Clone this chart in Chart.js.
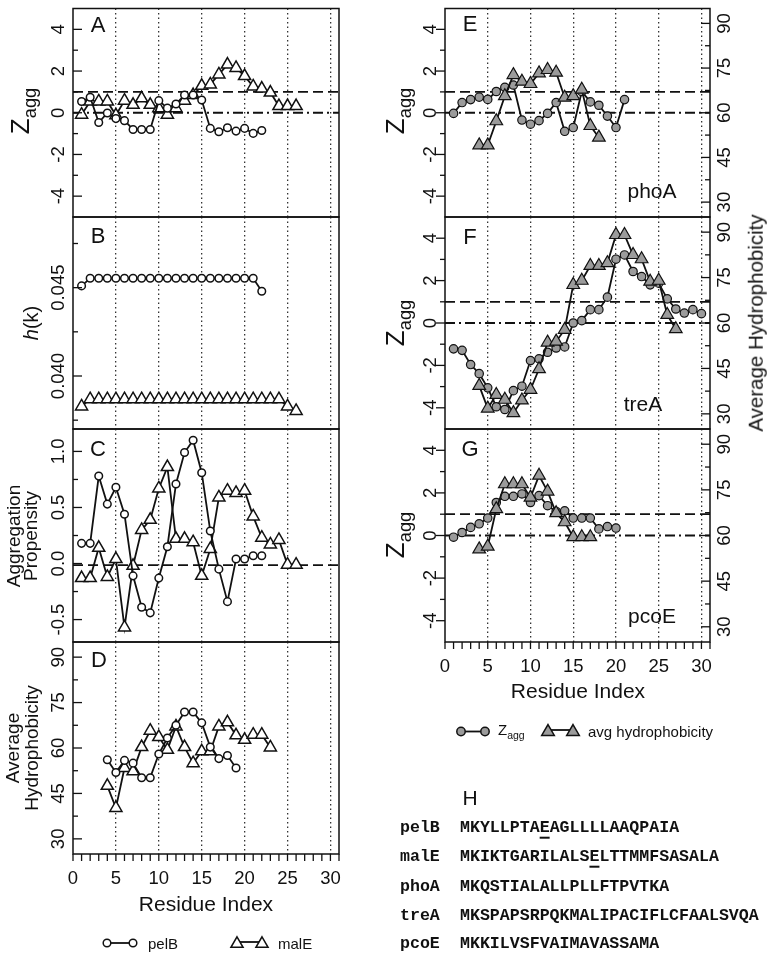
<!DOCTYPE html>
<html>
<head>
<meta charset="utf-8">
<title>Signal peptide aggregation profiles</title>
<script src="https://cdn.jsdelivr.net/npm/chart.js@4.4.1/dist/chart.umd.min.js"></script>
<style>
  body { margin: 0; background: #fff; }
  #page { position: relative; width: 767px; height: 956px; overflow: hidden;
          font-family: "Liberation Sans", Arial, Helvetica, sans-serif; color: #111; }
  #page canvas, #page svg { position: absolute; left: 0; top: 0; }
  .t { position: absolute; white-space: nowrap; line-height: 1; transform: translate(-50%, -50%); }
  .v { transform: translate(-50%, -50%) rotate(-90deg); text-align: center; }
  .t sub { font-size: 0.7em; vertical-align: -0.4em; line-height: 0; }
  .seq { position: absolute; font-family: "Liberation Mono", "Courier New", monospace; font-weight: bold;
         font-size: 16.6px; line-height: 1; white-space: pre; transform: translateY(-50%); }
  .seq u { text-decoration-thickness: 2px; text-underline-offset: 5px; }
</style>
</head>
<body>
<div id="page"></div>
<script>
// residue index axis (same for every panel)
const residueMax = 31;
const residueLabels = [0, 5, 10, 15, 20, 25, 30];

// A: Z_agg, pelB and malE (from residue 1)
const pelB_zagg = [0.54, 0.74, -0.47, -0.01, -0.28, -0.38, -0.80, -0.80, -0.80, 0.58, 0.22, 0.42, 0.85, 0.85, 0.61, -0.75, -0.91, -0.72, -0.88, -0.75, -0.99, -0.85];
const malE_zagg = [-0.09, 0.54, 0.54, 0.54, -0.12, 0.58, 0.38, 0.69, 0.38, 0.22, -0.09, 0.22, 0.58, 0.85, 1.29, 1.36, 1.84, 2.31, 2.15, 1.76, 1.26, 1.16, 0.97, 0.32, 0.32, 0.32];

// B: h(k)
const pelB_hk = [0.0451, 0.04553, 0.04553, 0.04553, 0.04553, 0.04553, 0.04553, 0.04553, 0.04553, 0.04553, 0.04553, 0.04553, 0.04553, 0.04553, 0.04553, 0.04553, 0.04553, 0.04553, 0.04553, 0.04553, 0.04553, 0.0448];
const malE_hk = [0.03828, 0.03869, 0.03869, 0.03869, 0.03869, 0.03869, 0.03869, 0.03869, 0.03869, 0.03869, 0.03869, 0.03869, 0.03869, 0.03869, 0.03869, 0.03869, 0.03869, 0.03869, 0.03869, 0.03869, 0.03869, 0.03869, 0.03869, 0.03869, 0.03828, 0.03802];

// C: aggregation propensity
const pelB_agg = [0.18, 0.18, 0.78, 0.53, 0.68, 0.44, -0.11, -0.39, -0.44, -0.13, 0.15, 0.71, 0.99, 1.10, 0.81, 0.29, -0.05, -0.34, 0.04, 0.04, 0.07, 0.07];
const malE_agg = [-0.13, -0.13, 0.14, -0.12, 0.04, -0.57, -0.02, 0.30, 0.39, 0.67, 0.86, 0.22, 0.22, 0.19, -0.11, 0.13, 0.59, 0.65, 0.63, 0.65, 0.42, 0.23, 0.17, 0.21, -0.01, -0.01];

// D-G: average hydrophobicity starts at residue 4 (7-residue window)
const hydStart = 4;
const pelB_hyd = [56.1, 51.9, 55.9, 55.0, 50.2, 50.2, 58.0, 63.3, 67.5, 71.9, 71.9, 68.3, 60.3, 56.5, 57.5, 53.4];
const malE_hyd = [47.5, 40.2, 53.4, 52.3, 60.3, 65.7, 63.6, 59.4, 67.1, 60.3, 55.0, 58.9, 58.9, 67.1, 68.5, 64.2, 62.7, 64.4, 64.4, 60.2];

// E: phoA
const phoA_zagg = [-0.03, 0.49, 0.63, 0.75, 0.64, 1.02, 1.22, 1.33, -0.35, -0.55, -0.38, -0.03, 0.49, -0.89, -0.71, 1.02, 0.52, 0.36, -0.16, -0.71, 0.63];
const phoA_hyd = [49.1, 49.1, 57.2, 65.6, 72.7, 70.5, 69.7, 73.3, 74.4, 73.5, 65.1, 65.6, 67.8, 55.6, 51.7];

// F: treA
const treA_zagg = [-1.22, -1.29, -1.96, -2.39, -3.06, -3.95, -4.08, -3.19, -2.98, -1.77, -1.69, -1.38, -1.18, -1.13, 0.00, 0.11, 0.63, 0.63, 1.22, 3.01, 3.21, 2.43, 2.19, 1.80, 1.88, 1.14, 0.66, 0.47, 0.63, 0.44];
const treA_hyd = [39.3, 31.8, 36.3, 34.7, 30.3, 34.5, 38.0, 44.8, 53.6, 53.9, 57.8, 72.6, 74.0, 78.9, 78.9, 79.8, 89.1, 89.1, 82.5, 81.1, 73.7, 74.0, 62.7, 58.0];

// G: pcoE
const pcoE_zagg = [-0.08, 0.14, 0.38, 0.55, 0.82, 1.55, 1.84, 1.84, 1.95, 1.55, 1.87, 1.40, 1.13, 1.16, 0.82, 0.82, 0.82, 0.31, 0.42, 0.35];
const pcoE_hyd = [55.5, 56.4, 68.7, 76.9, 76.9, 76.9, 72.5, 79.7, 74.5, 67.4, 64.4, 59.5, 59.5, 59.5];

// axis ranges and ticks
const zaggRange = [-5, 5], zaggTicks = [-4, -2, 0, 2, 4], zaggMinor = [-3, -1, 1, 3];
const hkRange = [0.037, 0.049], hkTicks = [0.040, 0.045], hkMinor = [0.0375, 0.0425, 0.0475];
const aggRange = [-0.7, 1.2], aggTicks = [-0.5, 0.0, 0.5, 1.0], aggMinor = [-0.25, 0.25, 0.75];
const hydRange = [25, 95], hydTicks = [30, 45, 60, 75, 90], hydMinor = [37.5, 52.5, 67.5, 82.5];

// reference lines
const zaggCutoff = 1, zaggZero = 0, aggZero = -0.015;

// sequences (panel H), underlined residue index (0-based) or -1
const seqNames = ['pelB', 'malE', 'phoA', 'treA', 'pcoE'];
const seqs = ['MKYLLPTAEAGLLLLAAQPAIA', 'MKIKTGARILALSELTTMMFSASALA', 'MKQSTIALALLPLLFTPVTKA', 'MKSPAPSRPQKMALIPACIFLCFAALSVQA', 'MKKILVSFVAIMAVASSAMA'];
const seqMark = [8, 13, -1, -1, -1];

const W = 767, H = 956;
const INK = '#111';
const GREY = '#9b9b9b';
const TICK_FONT = '18.5px "Liberation Sans", Arial, sans-serif';
const page = document.getElementById('page');

const DASH = [10, 5];
const DASHDOT = [10, 4, 2, 4];

function series(values, first) {
  return values.map((v, i) => ({ x: first + i, y: v }));
}

function lineSet(data, marker, extra) {
  const base = {
    data, borderColor: INK, borderWidth: 1.8, tension: 0, fill: false,
    pointBorderColor: INK
  };
  if (marker === 'openCircle') Object.assign(base, { pointStyle: 'circle', pointRadius: 3.8, pointBorderWidth: 1.5, pointBackgroundColor: '#fff' });
  if (marker === 'openTriangle') Object.assign(base, { pointStyle: 'triangle', pointRadius: 7, pointBorderWidth: 1.5, pointBackgroundColor: '#fff' });
  if (marker === 'greyCircle') Object.assign(base, { pointStyle: 'circle', pointRadius: 4.2, pointBorderWidth: 1.2, pointBackgroundColor: GREY });
  if (marker === 'greyTriangle') Object.assign(base, { pointStyle: 'triangle', pointRadius: 7.3, pointBorderWidth: 1.2, pointBackgroundColor: GREY });
  return Object.assign(base, extra || {});
}

function framePlugin(spec) {
  return {
    id: 'frame',
    beforeDatasetsDraw(chart) {
      const { ctx, chartArea: a } = chart;
      const ys = chart.scales.y;
      (spec.refs || []).forEach(r => {
        const py = ys.getPixelForValue(r.value);
        ctx.save();
        ctx.strokeStyle = INK; ctx.lineWidth = 1.8; ctx.setLineDash(r.dash);
        ctx.beginPath(); ctx.moveTo(a.left, py); ctx.lineTo(a.right, py); ctx.stroke();
        ctx.restore();
      });
    },
    afterDraw(chart) {
      const { ctx, chartArea: a } = chart;
      ctx.save();
      ctx.setLineDash([]);
      ctx.strokeStyle = INK;
      ctx.lineWidth = 1.5;
      ctx.strokeRect(a.left, a.top, a.right - a.left, a.bottom - a.top);

      ctx.font = TICK_FONT;
      ctx.fillStyle = INK;
      ctx.textAlign = 'center';
      ctx.textBaseline = 'middle';

      spec.axes.forEach(ax => {
        const s = chart.scales[ax.id];
        const edge = ax.side === 'left' ? a.left : a.right;
        const out = ax.side === 'left' ? -1 : 1;
        const dir = ax.inward ? -out : out;
        ctx.lineWidth = 1.3;
        const tick = (v, len) => {
          const py = s.getPixelForValue(v);
          ctx.beginPath(); ctx.moveTo(edge, py); ctx.lineTo(edge + dir * len, py); ctx.stroke();
        };
        ax.major.forEach(v => tick(v, 9));
        ax.minor.forEach(v => tick(v, 5));
        const lx = edge + out * 14.5;
        ax.major.forEach(v => {
          ctx.save();
          ctx.translate(lx, s.getPixelForValue(v));
          ctx.rotate(-Math.PI / 2);
          ctx.fillText(ax.fmt(v), 0, 0);
          ctx.restore();
        });
      });

      if (spec.xTicks) {
        const xs = chart.scales.x;
        ctx.lineWidth = 1.3;
        xs.ticks.forEach(t => {
          const px = xs.getPixelForValue(t.value);
          ctx.beginPath(); ctx.moveTo(px, a.bottom); ctx.lineTo(px, a.bottom + 7); ctx.stroke();
          if (residueLabels.includes(t.value)) ctx.fillText(String(t.value), px, a.bottom + 24.5);
        });
      }
      ctx.restore();
    }
  };
}

function panel(box, spec) {
  const canvas = document.createElement('canvas');
  canvas.width = W; canvas.height = H;
  page.appendChild(canvas);

  const scales = {
    x: {
      type: 'linear', min: 0, max: residueMax,
      afterFit: s => { s.height = 0; },
      ticks: { stepSize: 1, autoSkip: false, maxRotation: 0, display: false },
      grid: {
        drawTicks: false, lineWidth: 1.3,
        color: c => (c.tick && c.tick.value > 0 && c.tick.value % 5 === 0) ? '#333' : 'rgba(0,0,0,0)'
      },
      border: { display: false, dash: [1.5, 3] }
    },
    y: { type: 'linear', display: false, min: spec.y[0], max: spec.y[1] }
  };
  if (spec.y2) scales.y2 = { type: 'linear', display: false, position: 'right', min: spec.y2[0], max: spec.y2[1] };

  new Chart(canvas, {
    type: 'line',
    data: { datasets: spec.datasets },
    options: {
      responsive: false, animation: false, events: [],
      layout: { padding: { left: box[0], right: W - box[1], top: box[2], bottom: H - box[3] } },
      plugins: { legend: { display: false }, tooltip: { enabled: false } },
      scales
    },
    plugins: [framePlugin(spec)]
  });
}

// layout of the plot boxes [left, right, top, bottom]
const colL = [73, 339], colR = [445, 710];
const rows = [[5, 217], [217, 429], [429, 642], [642, 854]];
const fmt0 = v => String(v);

// left column
panel([colL[0], colL[1], rows[0][0], rows[0][1]], {
  y: zaggRange,
  axes: [{ id: 'y', side: 'left', inward: true, major: zaggTicks, minor: zaggMinor, fmt: fmt0 }],
  refs: [{ value: zaggCutoff, dash: DASH }, { value: zaggZero, dash: DASHDOT }],
  datasets: [lineSet(series(pelB_zagg, 1), 'openCircle'), lineSet(series(malE_zagg, 1), 'openTriangle')]
});
panel([colL[0], colL[1], rows[1][0], rows[1][1]], {
  y: hkRange,
  axes: [{ id: 'y', side: 'left', inward: true, major: hkTicks, minor: hkMinor, fmt: v => v.toFixed(3) }],
  datasets: [lineSet(series(pelB_hk, 1), 'openCircle'), lineSet(series(malE_hk, 1), 'openTriangle')]
});
panel([colL[0], colL[1], rows[2][0], rows[2][1]], {
  y: aggRange,
  axes: [{ id: 'y', side: 'left', inward: true, major: aggTicks, minor: aggMinor, fmt: v => v.toFixed(1) }],
  refs: [{ value: aggZero, dash: DASH }],
  datasets: [lineSet(series(pelB_agg, 1), 'openCircle'), lineSet(series(malE_agg, 1), 'openTriangle')]
});
panel([colL[0], colL[1], rows[3][0], rows[3][1]], {
  y: hydRange, xTicks: true,
  axes: [{ id: 'y', side: 'left', inward: true, major: hydTicks, minor: hydMinor, fmt: fmt0 }],
  datasets: [lineSet(series(pelB_hyd, hydStart), 'openCircle'), lineSet(series(malE_hyd, hydStart), 'openTriangle')]
});

// right column
function rightPanel(row, zagg, hyd, last) {
  panel([colR[0], colR[1], rows[row][0], rows[row][1]], {
    y: zaggRange, y2: hydRange, xTicks: last,
    axes: [
      { id: 'y', side: 'left', inward: false, major: zaggTicks, minor: zaggMinor, fmt: fmt0 },
      { id: 'y2', side: 'right', inward: true, major: hydTicks, minor: hydMinor, fmt: fmt0 }
    ],
    refs: [{ value: zaggCutoff, dash: DASH }, { value: zaggZero, dash: DASHDOT }],
    datasets: [
      lineSet(series(zagg, 1), 'greyCircle', { order: 2 }),
      lineSet(series(hyd, hydStart), 'greyTriangle', { yAxisID: 'y2', order: 1 })
    ]
  });
}
rightPanel(0, phoA_zagg, phoA_hyd, false);
rightPanel(1, treA_zagg, treA_hyd, false);
rightPanel(2, pcoE_zagg, pcoE_hyd, true);

// text
function text(html, x, y, size, cls, extra) {
  const d = document.createElement('div');
  d.className = 't' + (cls ? ' ' + cls : '');
  d.innerHTML = html;
  d.style.left = x + 'px';
  d.style.top = y + 'px';
  d.style.fontSize = size + 'px';
  if (extra) Object.assign(d.style, extra);
  page.appendChild(d);
  return d;
}
const ZAGG = 'Z<sub>agg</sub>';
[['A', 98, 25], ['B', 98, 236], ['C', 98, 449], ['D', 99, 660],
 ['E', 470, 24], ['F', 470, 237], ['G', 470, 449]].forEach(p => text(p[0], p[1], p[2], 22));
text('phoA', 652, 190, 21);
text('treA', 643, 403, 21);
text('pcoE', 652, 615, 21);

text(ZAGG, 20, 111, 26, 'v');
text('<i>h</i>(k)', 31, 323, 20, 'v');
text('Aggregation<br>Propensity', 21.5, 535.5, 19, 'v', { lineHeight: '17px' });
text('Average<br>Hydrophobicity', 22, 748, 19, 'v', { lineHeight: '19px' });
text(ZAGG, 395, 111, 26, 'v');
text(ZAGG, 395, 323, 26, 'v');
text(ZAGG, 395, 535, 26, 'v');
text('Average Hydrophobicity', 756, 323, 20.5, 'v');
text('Residue Index', 206, 903, 21);
text('Residue Index', 578, 690, 21);

// legends
text('pelB', 148, 943, 15, '', { transform: 'translate(0,-50%)' });
text('malE', 278, 943, 15, '', { transform: 'translate(0,-50%)' });
text(ZAGG, 498, 731, 15, '', { transform: 'translate(0,-60%)' });
text('avg hydrophobicity', 588, 731, 15, '', { transform: 'translate(0,-50%)' });

const svgNS = 'http://www.w3.org/2000/svg';
const svg = document.createElementNS(svgNS, 'svg');
svg.setAttribute('width', W); svg.setAttribute('height', H);
function svgEl(name, attrs) {
  const e = document.createElementNS(svgNS, name);
  Object.keys(attrs).forEach(k => e.setAttribute(k, attrs[k]));
  svg.appendChild(e);
}
function tri(cx, cy, r) {
  return [[cx, cy - r], [cx + r * 0.866, cy + r / 2], [cx - r * 0.866, cy + r / 2]].map(p => p.join(',')).join(' ');
}
function legendItem(x1, x2, y, shape, fillc, r) {
  svgEl('line', { x1, y1: y, x2, y2: y, stroke: INK, 'stroke-width': 1.8 });
  [x1, x2].forEach(cx => {
    if (shape === 'c') svgEl('circle', { cx, cy: y, r, fill: fillc, stroke: INK, 'stroke-width': 1.5 });
    else svgEl('polygon', { points: tri(cx, y + r * 0.25, r), fill: fillc, stroke: INK, 'stroke-width': 1.5 });
  });
}
legendItem(107, 133, 943, 'c', '#fff', 3.8);
legendItem(237, 262, 942, 't', '#fff', 7);
legendItem(461, 485, 731.5, 'c', GREY, 4.2);
legendItem(548, 573, 730, 't', GREY, 7.3);
page.appendChild(svg);

// H: sequences
text('H', 470, 797, 21);
const rowY = [828, 857, 887, 916, 944];
seqNames.forEach((name, i) => {
  const n = document.createElement('div');
  n.className = 'seq';
  n.textContent = name;
  n.style.left = '400px'; n.style.top = rowY[i] + 'px';
  page.appendChild(n);
  const s = document.createElement('div');
  s.className = 'seq';
  const k = seqMark[i];
  const seq = seqs[i];
  s.innerHTML = k < 0 ? seq : seq.slice(0, k) + '<u>' + seq[k] + '</u>' + seq.slice(k + 1);
  s.style.left = '460px'; s.style.top = rowY[i] + 'px';
  page.appendChild(s);
});
</script>
</body>
</html>
